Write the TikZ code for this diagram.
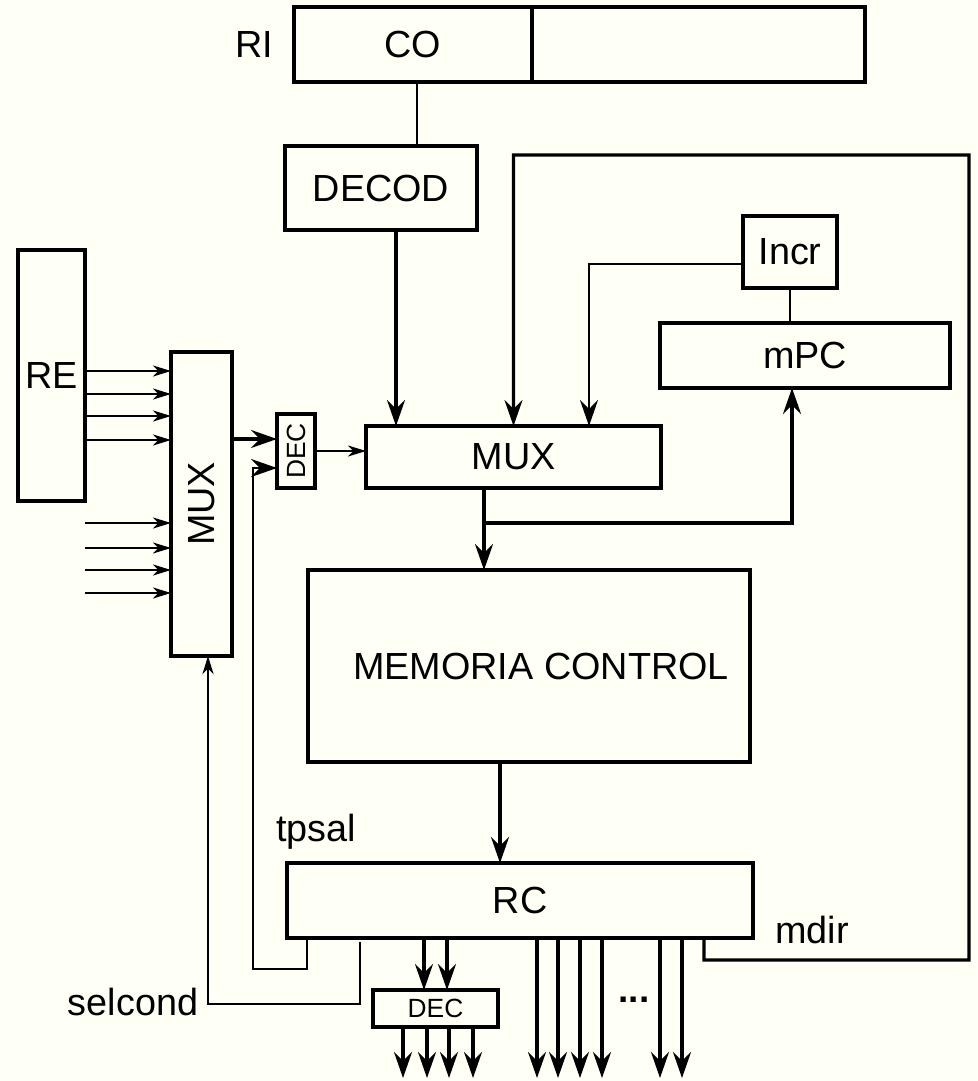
\documentclass[tikz,border=0pt]{standalone}
\usepackage{fontspec}
\setmainfont{Liberation Sans}
\usetikzlibrary{arrows.meta,positioning}
\definecolor{paper}{HTML}{FEFFF5}

\begin{document}
\begin{tikzpicture}[x=0.02cm,y=-0.02cm,font=\fontsize{21.5}{25}\selectfont,
  blk/.style={draw,line width=1.9pt,inner sep=0pt,outer sep=0pt,fill=paper},
  small/.style={font=\fontsize{15}{17}\selectfont},
  arr/.style={-{Stealth[length=5.2mm,width=3.6mm,inset=1.8mm]},line width=1.8pt},
  sarr/.style={-{Stealth[length=3.6mm,width=2.2mm,inset=1.1mm]},line width=1.4pt},
  thin/.style={line width=1.2pt}]
\fill[paper] (0,0) rectangle (977,1081);
\useasboundingbox (0,0) rectangle (977,1081);
% registers and blocks
\node[blk,minimum width=4.76cm,minimum height=1.5cm] (co) at (413,44.5) {CO};
\node[blk,minimum width=6.66cm,minimum height=1.5cm,right=0pt of co] (rirest) {};
\node[left=0.3cm of co] (ril) {RI};
\node[blk,minimum width=3.84cm,minimum height=1.68cm] (decod) at (381,188) {DECOD};
\node[blk,minimum width=5.9cm,minimum height=1.24cm] (mux) at (513.5,457) {MUX};
\node[blk,minimum width=1.88cm,minimum height=1.44cm] (incr) at (790,252) {Incr};
\node[blk,minimum width=5.8cm,minimum height=1.3cm] (mpc) at (805,355.5) {mPC};
\node[blk,minimum width=8.84cm,minimum height=3.84cm] (mem) at (529,666) {\hspace{0.48cm}MEMORIA CONTROL};
\node[blk,minimum width=9.32cm,minimum height=1.5cm] (rc) at (520,900.5) {RC};
\node[blk,minimum width=1.34cm,minimum height=5.02cm] (re) at (51.5,375.5) {RE};
\node[blk,minimum width=1.22cm,minimum height=6.08cm] (lmux) at (201.5,504) {\rotatebox{90}{MUX}};
\node[blk,small,minimum width=0.76cm,minimum height=1.48cm] (sdec) at (296,451) {\rotatebox{90}{DEC}};
\node[blk,small,minimum width=2.5cm,minimum height=0.74cm] (bdec) at (435.5,1008.5) {DEC};
% labels
\node (tpsal) at (316,832) {tpsal};
\node (mdir) at (812,930) {mdir};
\node (selcond) at (133,1002) {selcond};
\node[font=\fontsize{21}{25}\selectfont\bfseries] (dots) at (634,1000) {...};
% connectors
\draw[thin] ([xshift=0.08cm]co.south) -- ([xshift=0.08cm]co.south |- decod.north);
\draw[arr] ([xshift=0.3cm]decod.south) -- ([xshift=0.3cm]decod.south |- mux.north);
\draw[arr] ([xshift=3.68cm]rc.south) -- (704,960) -- (969,960) -- (969,155) -- (mux.north |- 0,155) -- (mux.north);
\draw[arr,line width=1.4pt] (incr.west |- 0,264) -- (589,264) -- (mux.north -| 589,0);
\draw[thin] (incr.south) -- (incr.south |- mpc.north);
\draw[arr] ([xshift=-0.59cm]mux.south) -- ([xshift=-0.59cm]mux.south |- mem.north);
\coordinate (j) at ([xshift=-0.59cm]mux.south |- 0,523);
\draw[arr] (j) -| ([xshift=-0.26cm]mpc.south);
\draw[arr] ([xshift=-0.58cm]mem.south) -- ([xshift=-0.58cm]mem.south |- rc.north);
\foreach \y in {371,394,416,440}
  \draw[sarr] (re.east |- 0,\y) -- (lmux.west |- 0,\y);
\foreach \y in {523,548,570,593}{
  \coordinate (in) at (85,\y);
  \draw[sarr] (in) -- (in -| lmux.west);
}
\draw[arr] (lmux.east |- 0,439) -- (sdec.west |- 0,439);
\draw[sarr] (sdec.east) -- (sdec.east -| mux.west);
\draw[arr,line width=1.5pt] ([xshift=-4.26cm]rc.south) |- (253,969) |- (sdec.west |- 0,468);
\draw[sarr] ([xshift=-3.2cm,yshift=-0.08cm]rc.south) |- (208,1004) -- (lmux.south -| 208,0);
\foreach \x in {424,447}
  \draw[arr] (rc.south -| \x,0) -- (bdec.north -| \x,0);
\foreach \x in {403,427,449,473}
  \draw[arr] (bdec.south -| \x,0) -- ++(0,51);
\foreach \x in {537,558,580,602,660,682}
  \draw[arr] (rc.south -| \x,0) -- ++(0,140);
\end{tikzpicture}
\end{document}
